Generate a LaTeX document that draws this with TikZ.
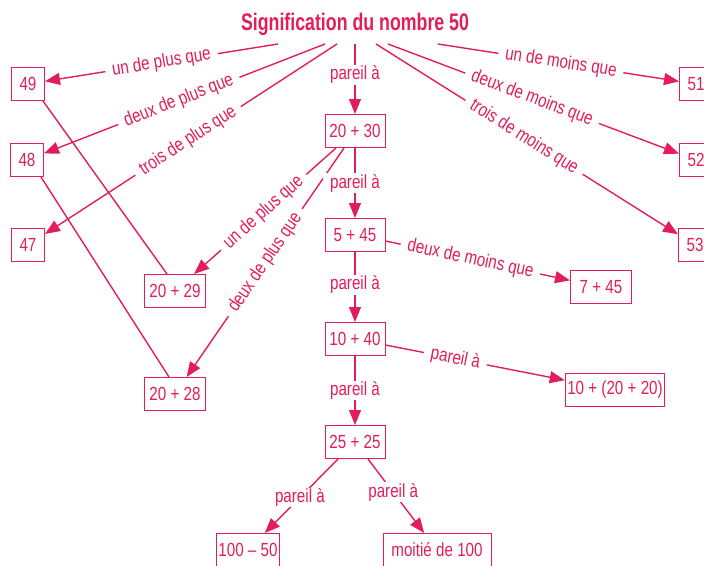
\documentclass[tikz,border=0pt]{standalone}
\usepackage{fontspec}
\setmainfont{Liberation Sans}[FakeStretch=0.8]
\newfontfamily\titlefont{Liberation Sans}[FakeStretch=0.74]
\usetikzlibrary{arrows.meta,calc}
\definecolor{rouge}{RGB}{226,30,90}
\begin{document}
\begin{tikzpicture}[x=1pt,y=-1pt,
  every node/.style={text=rouge},
  box/.style={draw=rouge, line width=1pt, minimum height=33pt, minimum width=33pt, inner xsep=2pt, font=\fontsize{19}{21}\selectfont},
  lbl/.style={fill=white, inner xsep=7pt, inner ysep=1pt, font=\fontsize{19}{21}\selectfont},
  arr/.style={draw=rouge, line width=1.4pt, -{Triangle[length=15pt,width=12pt]}},
  ln/.style={draw=rouge, line width=1.4pt}]
\useasboundingbox (0,0) rectangle (704,565);
\clip (0,0) rectangle (704,565);

\node[anchor=base, font=\titlefont\bfseries\fontsize{24}{27}\selectfont] (title) at (355,30) {Signification du nombre 50};

\coordinate (tA) at (278,44);
\coordinate (tB) at (325,44);
\coordinate (tC) at (337,44);
\coordinate (tP) at (355,44);
\coordinate (tD) at (376,44);
\coordinate (tE) at (388,44);
\coordinate (tF) at (438,44);

\node[box] (n49) at (28,84) {49};
\node[box] (n48) at (27,160) {48};
\node[box] (n47) at (28,245) {47};
\node[box] (n51) at (696,84) {51};
\node[box] (n52) at (696,160) {52};
\node[box] (n53) at (695,245) {53};
\node[box, minimum width=60pt] (n2030) at (355,131) {20 + 30};
\node[box, minimum width=60pt] (n545) at (355,235) {5 + 45};
\node[box, minimum width=60pt] (n1040) at (355,339) {10 + 40};
\node[box, minimum width=60pt] (n2525) at (355,442) {25 + 25};
\node[box, minimum width=61pt] (n2029) at (175,291) {20 + 29};
\node[box, minimum width=61pt] (n2028) at (175,394) {20 + 28};
\node[box, minimum width=61pt] (n745) at (601,287) {7 + 45};
\node[box, minimum width=98pt] (n1020) at (615,390) {10 + (20 + 20)};
\node[box, minimum width=61pt] (n10050) at (248,550) {100 – 50};
\node[box, minimum width=108pt] (nmoitie) at (437,550) {moitié de 100};

% plain crossing lines
\draw[ln] ($(n49.south east)+(-2,0)$) -- ($(n2029.north)+(-8,0)$);
\draw[ln] ($(n48.south east)+(-3,0)$) -- ($(n2028.north)+(-6,0)$);

% from title
\draw[arr] (tA) -- node[lbl, sloped] {un de plus que} (n49);
\draw[arr] (tB) -- node[lbl, sloped, pos=0.52] {deux de plus que} (n48);
\draw[arr] (tC) -- node[lbl, sloped, pos=0.51] {trois de plus que} (n47);
\draw[arr] (tP) -- node[lbl, pos=0.44] {pareil à} (n2030);
\draw[arr] (tF) -- node[lbl, sloped, pos=0.51] {un de moins que} (n51);
\draw[arr] (tE) -- node[lbl, sloped, pos=0.495] {deux de moins que} (n52);
\draw[arr] (tD) -- node[lbl, sloped, pos=0.49] {trois de moins que} (n53);

% from 20 + 30
\draw[arr] ($(n2030.south)+(-19,0)$) -- node[lbl, sloped, pos=0.51] {un de plus que} (n2029);
\draw[arr] ($(n2030.south)+(-11,0)$) -- node[lbl, sloped, pos=0.5] {deux de plus que} (n2028);
\draw[arr] (n2030) -- node[lbl, pos=0.5] {pareil à} (n545);

% chain
\draw[arr] ($(n545.east)+(0,6)$) -- node[lbl, sloped, pos=0.46] {deux de moins que} (n745);
\draw[arr] (n545) -- node[lbl, pos=0.47] {pareil à} (n1040);
\draw[arr] ($(n1040.east)+(0,6)$) -- node[lbl, sloped, pos=0.39] {pareil à} (n1020);
\draw[arr] (n1040) -- node[lbl, pos=0.5] {pareil à} (n2525);
\draw[arr] ($(n2525.south)+(-17,0)$) -- node[lbl, pos=0.52] {pareil à} (n10050);
\draw[arr] ($(n2525.south)+(13,0)$) -- node[lbl, pos=0.45] {pareil à} (nmoitie);
\end{tikzpicture}
\end{document}
